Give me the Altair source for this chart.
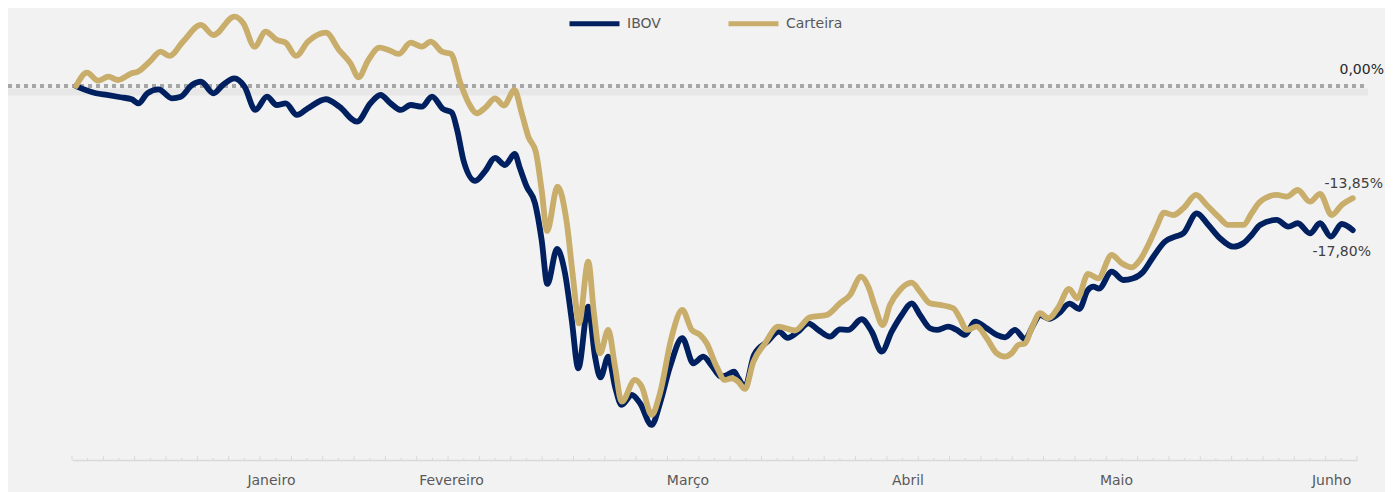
import altair as alt
import pandas as pd

# x = trading-day index (0 = 30/12/2019 ... 123 = 30/06/2020), y = accumulated return (%)
ibov_dia = [0, 1.93, 2.99, 4.29, 5.37, 6.01, 6.87, 7.95, 9.24, 10.10, 11.18, 12.04, 13.24, 14.16, 15.26,
            16.24, 17.28, 18.40, 19.34, 20.20, 21.28, 22.35, 24.08, 25.37, 27.07, 28.37, 29.33, 30.31,
            31.30, 32.24, 33.32, 34.30, 35.36, 36.20, 36.72, 37.36, 38.46, 39.40, 40.37, 41.33, 42.27,
            42.77, 43.42, 44.22, 44.86, 45.41, 46.34, 47.11, 47.76, 48.39, 49.35, 50.00, 50.53, 51.28,
            51.93, 52.57, 53.54, 54.34, 55.46, 56.26, 57.23, 58.41, 59.47, 60.43, 61.27, 62.14, 62.72,
            63.39, 63.81, 64.45, 65.32, 66.57, 67.73, 68.55, 69.56, 70.55, 71.51, 72.64, 73.60, 74.40,
            75.69, 76.66, 77.62, 78.58, 79.55, 80.51, 81.31, 82.27, 82.92, 84.04, 84.85, 85.65, 86.61,
            87.74, 88.70, 89.50, 90.46, 91.43, 92.23, 92.87, 93.74, 94.70, 95.71, 96.66, 97.45, 98.01,
            98.55, 99.78, 100.89, 101.86, 102.82, 103.79, 104.91, 105.88, 106.68, 107.97, 109.09,
            110.21, 111.49, 112.46, 113.26, 114.07, 115.67, 116.79, 117.70, 118.88, 119.85, 120.89,
            121.94, 123.0]
ibov_ret = [0, -0.89, -1.10, -1.38, -1.63, -2.13, -0.89, -0.40, -1.51, -1.31, 0.14, 0.54, -0.89, 0.14, 0.96,
            -0.07, -2.95, -1.31, -2.34, -2.13, -3.57, -2.74, -1.63, -2.55, -4.40, -2.13, -1.10, -2.13,
            -2.95, -2.34, -2.55, -1.31, -2.83, -3.26, -5.42, -9.32, -11.72, -10.55, -8.88, -9.75, -8.39,
            -10.16, -12.43, -14.48, -19.02, -24.45, -20.13, -23.13, -28.90, -34.87, -27.25, -33.43,
            -36.00, -33.43, -37.14, -39.40, -38.17, -39.19, -41.87, -39.19, -34.67, -31.16, -34.25,
            -33.43, -34.58, -35.90, -35.69, -35.29, -36.10, -37.14, -33.22, -31.62, -30.34, -31.10,
            -30.34, -29.31, -30.13, -30.96, -30.05, -30.13, -28.81, -30.34, -32.81, -30.34, -28.28,
            -26.84, -28.28, -29.92, -30.13, -29.73, -30.13, -30.75, -29.11, -29.92, -30.75, -31.04,
            -30.13, -31.25, -29.52, -28.28, -28.77, -28.07, -26.88, -27.54, -25.25, -24.78, -25.01,
            -22.93, -23.96, -23.75, -22.93, -21.08, -19.22, -18.61, -18.19, -15.72, -17.16, -18.80,
            -19.84, -19.42, -18.40, -17.16, -16.54, -17.37, -16.95, -18.19, -16.95, -18.61, -17.04,
            -17.80]

cart_dia = [0, 1.06, 2.12, 3.13, 4.05, 5.37, 5.97, 7.09, 8.16, 9.02, 10.31, 12.04, 13.24, 15.26, 16.12,
            17.20, 18.27, 19.34, 20.20, 21.19, 22.35, 24.08, 25.34, 26.44, 27.22, 28.16, 29.24, 30.10,
            31.09, 32.24, 33.32, 34.18, 35.26, 36.12, 37.04, 37.84, 38.61, 39.50, 40.37, 41.23, 42.24,
            42.94, 43.58, 44.30, 44.86, 45.38, 46.39, 47.27, 47.91, 48.46, 49.35, 49.90, 50.48, 51.28,
            51.93, 52.57, 53.85, 54.50, 55.46, 56.26, 57.39, 58.41, 59.32, 60.12, 60.76, 61.72, 62.52,
            63.17, 63.80, 64.45, 65.25, 66.38, 67.66, 69.27, 70.71, 72.32, 73.60, 74.57, 75.63, 76.33,
            76.97, 77.72, 78.42, 79.38, 80.51, 81.31, 82.27, 83.24, 84.52, 85.16, 85.81, 86.77, 87.74,
            88.70, 89.50, 90.14, 90.78, 91.43, 92.07, 92.87, 93.67, 94.63, 95.66, 96.48, 97.50, 98.48,
            99.78, 100.74, 101.71, 102.50, 103.30, 104.11, 104.82, 105.71, 106.68, 107.90, 108.93,
            110.05, 111.01, 112.46, 113.26, 114.07, 115.67, 116.64, 117.70, 118.88, 119.85, 120.97,
            121.94, 123.0]
cart_ret = [0, 1.66, 0.67, 1.16, 0.75, 1.58, 1.78, 3.01, 4.25, 3.72, 5.49, 7.55, 6.31, 8.57, 7.76,
            4.87, 6.72, 5.70, 5.36, 3.72, 5.49, 6.60, 4.46, 2.82, 1.09, 3.22, 4.74, 4.46,
            3.97, 5.36, 4.87, 5.49, 4.25, 3.97, 0.35, -2.13, -3.36, -2.58, -1.51, -2.40, -0.48,
            -3.36, -6.25, -8.14, -12.84, -17.90, -12.43, -16.79, -23.96, -29.31, -21.70, -28.07, -33.01,
            -30.13, -34.67, -38.99, -36.31, -37.14, -40.63, -37.95, -30.96, -27.66, -30.13, -30.75,
            -31.78, -34.67, -36.31, -36.10, -36.52, -37.42, -34.09, -31.78, -29.73, -30.20, -28.56,
            -28.28, -26.84, -25.81, -23.55, -24.78, -27.25, -29.52, -27.04, -25.19, -24.29, -25.40,
            -26.84, -27.04, -27.45, -28.69, -30.13, -29.73, -31.16, -33.01, -33.43, -33.01, -31.99,
            -31.78, -29.92, -28.07, -28.69, -27.35, -25.07, -26.22, -23.21, -23.75, -20.87, -21.89,
            -22.39, -21.49, -19.63, -17.37, -15.64, -15.93, -15.10, -13.45, -14.69, -16.14, -17.16,
            -17.16, -15.72, -14.28, -13.45, -13.66, -12.84, -14.28, -13.33, -15.93, -14.69, -13.85]

series = ["IBOV", "Carteira"]
cores = ["#002060", "#C9AD6B"]

meses = ["Janeiro", "Fevereiro", "Março", "Abril", "Maio", "Junho"]
meses_pos = [18.83, 36.18, 58.96, 80.15, 100.24, 120.96]

W, H = 1285, 450
X_DOM = [-0.385, 123.41]
Y_DOM = [-46.2, 9.4]
FONT = "DejaVu Sans"

def fmt(v):
    return f"{v:.2f}".replace(".", ",") + "%"

df_ibov = pd.DataFrame({"dia": ibov_dia, "ret": ibov_ret, "serie": "IBOV"})
df_cart = pd.DataFrame({"dia": cart_dia, "ret": cart_ret, "serie": "Carteira"})

xs = alt.Scale(domain=X_DOM, nice=False, zero=False)
ys = alt.Scale(domain=Y_DOM, nice=False, zero=False)
cs = alt.Scale(domain=series, range=cores)

legend = alt.Legend(orient="none", legendX=495, legendY=-14, direction="horizontal", title=None,
                    symbolType="stroke", symbolSize=2500, symbolStrokeWidth=5,
                    labelFont=FONT, labelFontSize=14, labelColor="#595959",
                    labelOffset=5, columnPadding=57)

xaxis = alt.Axis(domain=True, domainColor="#d9d9d9", domainWidth=1.5, ticks=False,
                 labels=False, grid=False, title=None)


def line(df):
    return alt.Chart(df).mark_line(strokeWidth=5.8, interpolate="monotone",
                                   strokeCap="round", strokeJoin="round").encode(
        x=alt.X("dia:Q", scale=xs, axis=xaxis),
        y=alt.Y("ret:Q", scale=ys, axis=None),
        color=alt.Color("serie:N", scale=cs, legend=legend),
    )

zero_df = pd.DataFrame({"v": [0.0], "txt": [fmt(0.0)]})
zero_shadow = alt.Chart(zero_df).mark_rule(color="black", opacity=0.045, strokeWidth=7, yOffset=6).encode(
    y=alt.Y("v:Q", scale=ys, axis=None), x=alt.value(-64), x2=alt.value(1296))
zero_line = alt.Chart(zero_df).mark_rule(color="#a6a6a6", strokeWidth=4, strokeDash=[4, 4]).encode(
    y=alt.Y("v:Q", scale=ys, axis=None), x=alt.value(-64), x2=alt.value(1296))
zero_lbl = alt.Chart(zero_df).mark_text(font=FONT, fontSize=14, color="#262626", align="right",
                                       baseline="middle", dy=-16).encode(
    y=alt.Y("v:Q", scale=ys, axis=None), x=alt.value(1312), text="txt:N")

# axis ticks (alternating long/short)
n_ticks = 83
step = (X_DOM[1] - X_DOM[0]) / (n_ticks - 1)
tick_pos = [X_DOM[0] + k * step for k in range(n_ticks)]
maj = pd.DataFrame({"t": tick_pos[::2]})
mnr = pd.DataFrame({"t": tick_pos[1::2]})
ticks_maj = alt.Chart(maj).mark_rule(color="#d9d9d9", strokeWidth=1).encode(
    x=alt.X("t:Q", scale=xs), y=alt.value(H), y2=alt.value(H - 4))
ticks_min = alt.Chart(mnr).mark_rule(color="#d9d9d9", strokeWidth=1).encode(
    x=alt.X("t:Q", scale=xs), y=alt.value(H), y2=alt.value(H - 2))

mes_df = pd.DataFrame({"pos": meses_pos, "mes": meses})
mes_lbl = alt.Chart(mes_df).mark_text(font=FONT, fontSize=14, color="#595959", baseline="middle").encode(
    x=alt.X("pos:Q", scale=xs), y=alt.value(H + 21), text="mes:N")

end_ibov = pd.DataFrame({"dia": [ibov_dia[-1]], "ret": [ibov_ret[-1]], "txt": [fmt(ibov_ret[-1])]})
end_cart = pd.DataFrame({"dia": [cart_dia[-1]], "ret": [cart_ret[-1]], "txt": [fmt(cart_ret[-1])]})
lbl_ibov = alt.Chart(end_ibov).mark_text(font=FONT, fontSize=14, color="#404040", dx=-11, dy=22).encode(
    x=alt.X("dia:Q", scale=xs), y=alt.Y("ret:Q", scale=ys, axis=None), text="txt:N")
lbl_cart = alt.Chart(end_cart).mark_text(font=FONT, fontSize=14, color="#404040", dx=1, dy=-14).encode(
    x=alt.X("dia:Q", scale=xs), y=alt.Y("ret:Q", scale=ys, axis=None), text="txt:N")

chart = alt.layer(
    zero_shadow, zero_line, line(df_ibov), line(df_cart), ticks_maj, ticks_min,
    mes_lbl, lbl_ibov, lbl_cart, zero_lbl
).properties(
    width=W, height=H,
    autosize=alt.AutoSizeParams(type="none"),
    padding={"left": 64, "top": 2, "right": 28, "bottom": 32},
    background="#f2f2f2",
).configure_view(stroke=None)

chart.save("out.html", embed_options={"renderer": "svg", "actions": False})
